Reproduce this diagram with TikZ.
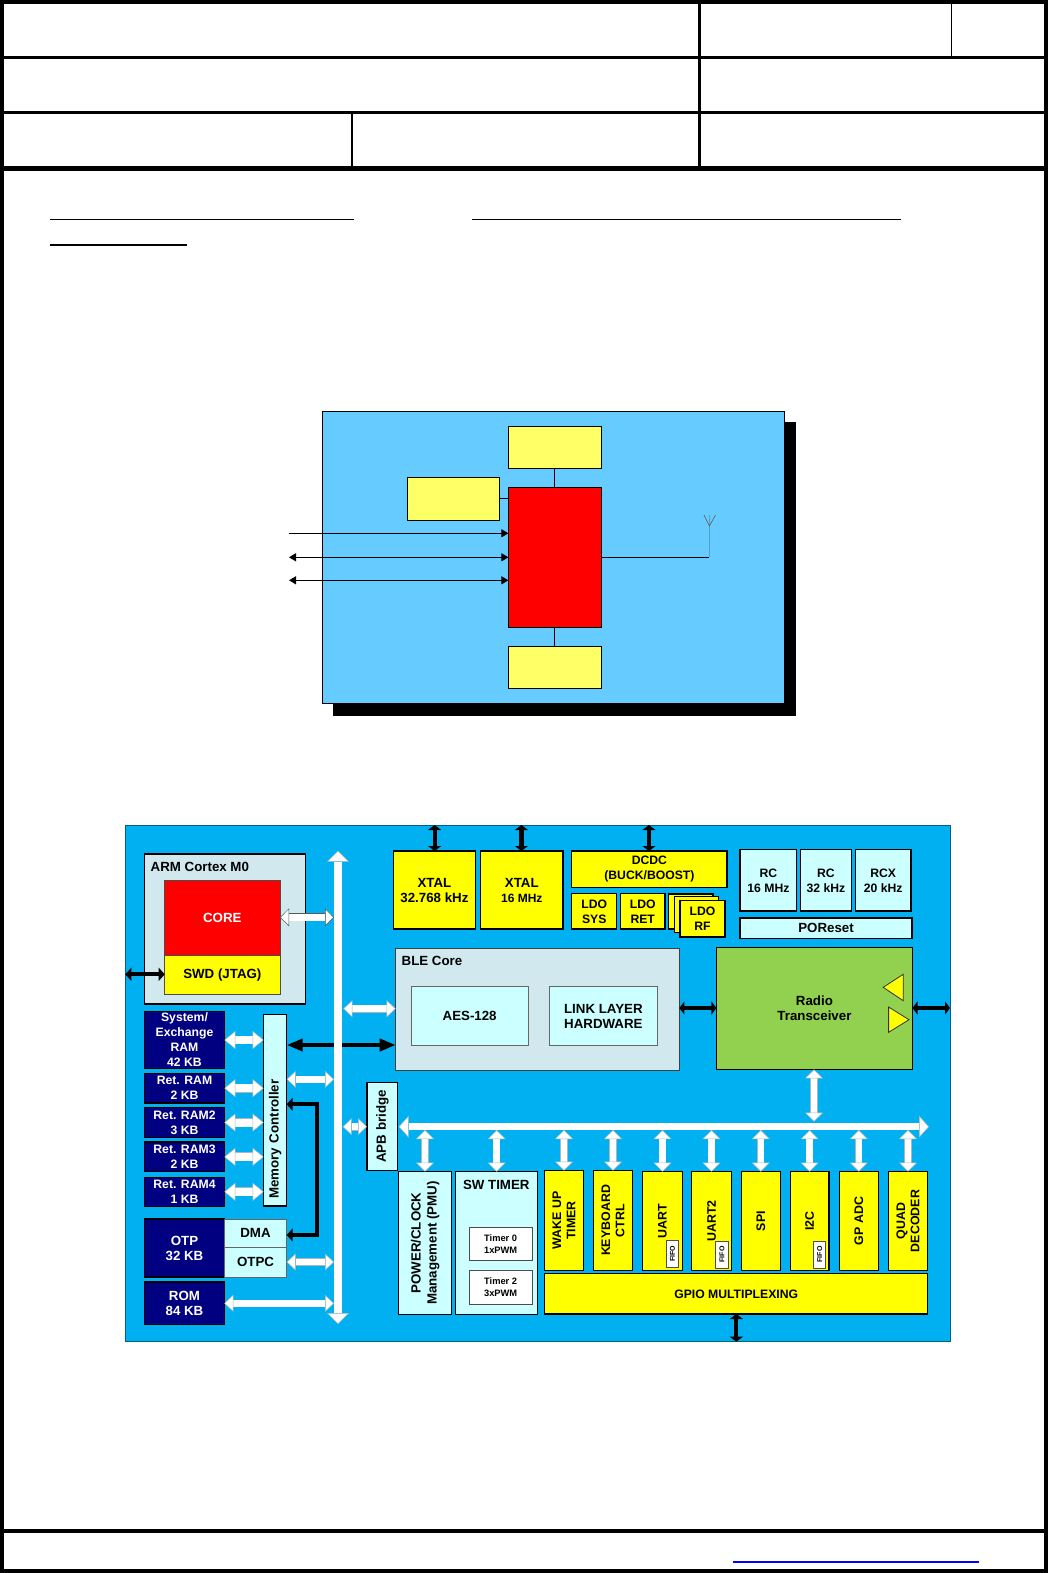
\documentclass[tikz,border=0pt]{standalone}
\usepackage{fontspec}
\setmainfont{Liberation Sans}
\usetikzlibrary{arrows.meta,calc}
\definecolor{bgblue}{HTML}{00B0F0}
\definecolor{topblue}{HTML}{66CCFF}
\definecolor{topyel}{HTML}{FFFF66}
\definecolor{pale}{HTML}{D1E8EE}
\definecolor{cyanbox}{HTML}{CCFFFF}
\definecolor{navybox}{HTML}{000080}
\definecolor{grnbox}{HTML}{92D050}
\definecolor{wedge}{HTML}{A8B8BE}
\definecolor{antblue}{HTML}{4FA3D6}
\definecolor{pureyel}{HTML}{FFFF00}
\definecolor{purered}{HTML}{FF0000}
\definecolor{pureblue}{HTML}{0000FF}
\newcommand{\bx}[7][]{%
  \pgfmathsetmacro{\cxv}{(#3+#5)/2}\pgfmathsetmacro{\cyv}{(#4+#6)/2}%
  \pgfmathsetmacro{\wv}{#5-#3}\pgfmathsetmacro{\hv}{#6-#4}%
  \node[basebox,minimum width=\wv pt,minimum height=\hv pt,#1] (#2) at (\cxv,\cyv) {#7};}
\newcommand{\vbx}[7][]{%
  \pgfmathsetmacro{\cxv}{(#3+#5)/2}\pgfmathsetmacro{\cyv}{(#4+#6)/2}%
  \pgfmathsetmacro{\wv}{#5-#3}\pgfmathsetmacro{\hv}{#6-#4}%
  \node[basebox,rotate=90,minimum width=\hv pt,minimum height=\wv pt,#1] (#2) at (\cxv,\cyv) {#7};}
\tikzset{
  basebox/.style={draw=black,line width=1.3pt,inner sep=0pt,outer sep=0pt,align=center,text=black,font=\bfseries\fontsize{13.3}{15}\selectfont},
  small/.style={font=\bfseries\fontsize{12.2}{15}\selectfont},
  tinyt/.style={font=\bfseries\fontsize{9.3}{11.5}\selectfont},
  fifot/.style={fill=white,draw=black!70,line width=1pt,font=\bfseries\fontsize{7}{8}\selectfont},
  perif/.style={fill=pureyel,font=\bfseries\fontsize{12.4}{14.3}\selectfont},
  yel/.style={fill=pureyel},
  cyb/.style={fill=cyanbox},
  nav/.style={fill=navybox,text=white,draw=black},
  palebox/.style={fill=pale},
  topy/.style={fill=topyel,line width=1pt},
  lbl/.style={inner sep=0pt,outer sep=0pt,font=\bfseries\fontsize{13.3}{15}\selectfont,text=black},
  warr/.style n args={3}{line width=#1pt,draw=white,
     arrows={Triangle[length=#2pt,width=#3pt,fill=white,color=wedge,line width=.5pt]-Triangle[length=#2pt,width=#3pt,fill=white,color=wedge,line width=.5pt]},
     preaction={draw=wedge,-,line width=#1pt+.8pt,shorten >=#2pt,shorten <=#2pt}},
  barr/.style n args={3}{line width=#1pt,draw=black,
     arrows={Triangle[length=#2pt,width=#3pt]-Triangle[length=#2pt,width=#3pt]}},
  ramarr/.style={warr={8}{11}{18}},
  perarr/.style={warr={6.5}{9}{18}},
  blkarr/.style={barr={3.8}{6}{13}},
  thinarr/.style={line width=1.1pt,draw=black,-{Triangle[length=7pt,width=8pt]}},
  thinboth/.style={line width=1.1pt,draw=black,{Triangle[length=7pt,width=8pt]}-{Triangle[length=7pt,width=8pt]}},
  wire/.style={line width=1pt,draw=black}
}
\begin{document}
\begin{tikzpicture}[x=1pt,y=-1pt]
\useasboundingbox (0,0) rectangle (1048,1573);
\fill[white] (0,0) rectangle (1048,1573);
% page frame
\fill[black] (0,0) rectangle (1048,4);
\fill[black] (0,0) rectangle (4,1573);
\fill[black] (1044,0) rectangle (1048,1573);
\fill[black] (0,1569) rectangle (1048,1573);
\fill[black] (0,56) rectangle (1048,59);
\fill[black] (0,111) rectangle (1048,114);
\fill[black] (0,166) rectangle (1048,171);
\fill[black] (0,1529) rectangle (1048,1533);
\fill[black] (698,0) rectangle (701,171);
\fill[black] (350.5,114) rectangle (353,171);
\fill[black] (951,4) rectangle (951.8,56);
\fill[black] (50,218.6) rectangle (354,220);
\fill[black] (472,218.6) rectangle (901,220);
\fill[black] (50,244) rectangle (187,246);
\fill[pureblue] (733,1561) rectangle (979,1563);

% upper diagram
\fill[black] (333,422) rectangle (796,716);
\bx[fill=topblue,line width=1pt]{chip}{322.2}{411}{784}{703.3}{}
\bx[topy]{ytop}{508.4}{426.7}{601.3}{468.3}{}
\bx[topy]{yleft}{407.4}{477.3}{499.6}{520.7}{}
\bx[fill=purered,line width=1pt]{redb}{508.4}{487.3}{601.3}{627.3}{}
\bx[topy]{ybot}{508.4}{646.3}{601.3}{688.3}{}
\coordinate (c1) at (289,533.3);
\coordinate (c2) at (289,557.3);
\coordinate (c3) at (289,580.3);
\coordinate (cl) at (499.6,498.3);
\coordinate (antF) at (709.4,557.3);
\coordinate (antJ) at (709.4,526);
\coordinate (antT) at (709.4,515);
\coordinate (antL) at (704,515);
\coordinate (antR) at (715.5,515);
\draw[wire] (ytop.south) -- (redb.north);
\draw[wire] (redb.south) -- (ybot.north);
\draw[wire] (cl) -- (cl -| redb.west);
\draw[thinarr] (c1) -- (c1 -| redb.west);
\draw[thinboth] (c2) -- (c2 -| redb.west);
\draw[thinboth] (c3) -- (c3 -| redb.west);
\draw[wire] (redb.east) -- (antF);
\draw[line width=1.6pt,draw=antblue] (antF) -- (antT);
\draw[line width=.7pt,draw=black!60] (antL) -- (antJ) -- (antR);

% lower diagram
\bx[fill=bgblue,draw=black!45!bgblue,line width=1pt]{bg}{125.3}{825.3}{950}{1341.7}{}
\bx[palebox]{arm}{144.7}{854}{305.3}{1004}{}
\node[lbl,anchor=west] (armlbl) at (150.7,866.7) {ARM Cortex M0};
\bx[fill=purered,text=white,draw=black!70,line width=1pt]{core}{164.7}{880}{280}{955.7}{CORE}
\bx[yel,draw=black!70,line width=1pt]{swd}{164.7}{955.7}{280}{994}{SWD (JTAG)}
\bx[nav,small]{sysram}{144.7}{1011.3}{224.3}{1068.7}{System/\\Exchange\\RAM\\42 KB}
\bx[nav,small]{ram1}{144.7}{1073.3}{224.3}{1103}{Ret. RAM\\2 KB}
\bx[nav,small]{ram2}{144.7}{1107.7}{224.3}{1137.3}{Ret. RAM2\\3 KB}
\bx[nav,small]{ram3}{144.7}{1142}{224.3}{1171.7}{Ret. RAM3\\2 KB}
\bx[nav,small]{ram4}{144.7}{1177.3}{224.3}{1206.3}{Ret. RAM4\\1 KB}
\vbx[cyb,text width=191pt,align=left]{mc}{263.7}{1014.3}{286.7}{1206}{\hspace*{7pt}Memory Controller}
\bx[nav]{otp}{144.7}{1219}{224.3}{1277}{OTP\\32 KB}
\bx[cyb,draw=black!60,line width=1pt]{dma}{224.3}{1219}{286.7}{1247.3}{DMA}
\bx[cyb,draw=black!60,line width=1pt]{otpc}{224.3}{1247.3}{286.7}{1277}{OTPC}
\bx[nav]{rom}{144.7}{1282}{224.3}{1324.7}{ROM\\84 KB}
\vbx[cyb]{apb}{367}{1082.3}{397.7}{1170.7}{APB bridge}
\vbx[cyb,font=\bfseries\fontsize{13.3}{16}\selectfont]{pmu}{398.7}{1171.7}{451.7}{1314.3}{POWER/CLOCK\\Management (PMU)}
\bx[cyb]{swt}{455.3}{1171.7}{537.3}{1314.3}{}
\node[lbl] (swtlbl) at (496.3,1184.7) {SW TIMER};
\bx[fill=white,draw=black!70,line width=1pt,tinyt]{t0}{469.3}{1227.7}{532}{1260.7}{Timer 0\\1xPWM}
\bx[fill=white,draw=black!70,line width=1pt,tinyt]{t2}{469.3}{1270.7}{532}{1304}{Timer 2\\3xPWM}
\vbx[perif]{wake}{544.7}{1170.7}{583.3}{1270.3}{WAKE UP\\TIMER}
\vbx[perif]{keyb}{593.7}{1170.7}{632.3}{1270.3}{KEYBOARD\\CTRL}
\vbx[perif]{uarta}{642.7}{1171.7}{682.3}{1270.3}{UART}
\vbx[perif]{uartb}{691.7}{1171.7}{731.3}{1270.3}{UART2}
\vbx[perif]{spi}{741.3}{1171.7}{780.3}{1270.3}{SPI}
\vbx[perif]{itc}{790.3}{1171.7}{829}{1270.3}{I2C}
\vbx[perif]{adc}{839.3}{1171.7}{878.3}{1270.3}{GP ADC}
\vbx[perif]{quad}{888.3}{1171.7}{927.7}{1270.3}{QUAD\\DECODER}
\vbx[fifot]{ff1}{666.3}{1240}{678.7}{1267.7}{FIFO}
\vbx[fifot]{ff2}{715.7}{1241}{728.3}{1268}{FIFO}
\vbx[fifot]{ff3}{813.7}{1241}{825.7}{1268}{FIFO}
\bx[yel,small]{gpio}{544.7}{1273.7}{927.7}{1314}{GPIO MULTIPLEXING}
\bx[yel]{xa}{393.2}{851}{475.7}{929}{XTAL\\32.768 kHz}
\bx[yel]{xb}{480.7}{851}{562.9}{929}{XTAL\\{\fontsize{12}{15}\selectfont 16 MHz}}
\bx[yel,small]{dcdc}{571.8}{851}{727}{887.7}{DCDC\\(BUCK/BOOST)}
\bx[yel,small]{lsys}{571.8}{893.7}{616.8}{929}{LDO\\SYS}
\bx[yel,small]{lret}{620.4}{893.7}{665}{929}{LDO\\RET}
\bx[yel,small]{lrfa}{668.2}{894}{713}{929}{}
\bx[yel,small]{lrfb}{674.3}{896.7}{718.6}{932.7}{}
\bx[yel,small]{lrfc}{680}{900.3}{725}{937}{LDO\\RF}
\bx[cyb,small]{rca}{740}{849.7}{796.8}{911}{RC\\16 MHz}
\bx[cyb,small]{rcb}{800.4}{849.7}{851.4}{911}{RC\\32 kHz}
\bx[cyb,small]{rcc}{855.4}{849.7}{911}{911}{RCX\\20 kHz}
\bx[cyb]{por}{740}{918}{912}{938.7}{POReset}
\bx[palebox,draw=black!75,line width=1.3pt]{ble}{395.7}{948.7}{679.3}{1070.3}{}
\node[lbl] (blelbl) at (432,961) {BLE Core};
\bx[cyb,draw=black!60,line width=.8pt]{aes}{411.4}{986.3}{527.9}{1045.7}{AES-128}
\bx[cyb,draw=black!60,line width=.8pt]{ll}{549.3}{986.3}{657.5}{1045.7}{LINK LAYER\\HARDWARE}
\bx[fill=grnbox,line width=1.3pt]{radio}{716.4}{947.3}{912.5}{1069.3}{Radio\\Transceiver}
\coordinate (t1a) at (883.2,987.3);
\coordinate (t1b) at (903.2,974.3);
\coordinate (t1c) at (903.2,1000.7);
\coordinate (t2a) at (909,1019.7);
\coordinate (t2b) at (888.6,1007);
\coordinate (t2c) at (888.6,1032.3);
\filldraw[fill=pureyel,draw=black!80,line width=.8pt] (t1a) -- (t1b) -- (t1c) -- cycle;
\filldraw[fill=pureyel,draw=black!80,line width=.8pt] (t2a) -- (t2b) -- (t2c) -- cycle;

% named connector ends
\coordinate (vbT) at (338,850.7);
\coordinate (vbB) at (338,1324);
\coordinate (vbL) at (334,0);
\coordinate (hbL) at (398.7,1126.7);
\coordinate (hbR) at (929,1126.7);
\coordinate (hbU) at (0,1130);
\coordinate (hbA) at (0,1121.7);
\coordinate (bgTop) at (0,825);
\coordinate (bgBot) at (0,1341.7);
\coordinate (bgL) at (125.3,974.3);
\coordinate (bgR) at (950,1008);
\coordinate (mcb) at (286.7,1079.3);
\coordinate (mcd) at (286.7,1104.3);
\coordinate (mcble) at (286.7,1045);
\coordinate (dmaj) at (317.3,1235);
\coordinate (mcj) at (317.3,1104.3);
\coordinate (bleb) at (343.3,1008.7);
\coordinate (apbb) at (342.7,1126.7);
\coordinate (corea) at (280,917.3);
\coordinate (pmua) at (425,1171.7);
\coordinate (swta) at (496.7,1171.7);
\coordinate (radb) at (814,1069.3);
\coordinate (xat) at (434.6,851);
\coordinate (xbt) at (521.4,851);
\coordinate (dct) at (649,851);
\coordinate (gpb) at (736.3,1314);
\coordinate (otpca) at (286.7,1262);
\coordinate (roma) at (224.3,1303.3);

% black connectors
\draw[barr={3.8}{16}{12}] (mcble) -- (mcble -| ble.west);
\draw[blkarr] (bgL) -- (bgL -| swd.west);
\draw[blkarr] (mcd) -- (mcj) -- (dmaj) -- (dma.east |- dmaj);
\draw[barr={4.2}{5}{13}] (xat) -- (xat |- bgTop);
\draw[barr={4.2}{5}{13}] (xbt) -- (xbt |- bgTop);
\draw[barr={4.2}{5}{13}] (dct) -- (dct |- bgTop);
\draw[barr={4.2}{5}{13}] (gpb) -- (gpb |- bgBot);
\draw[barr={3.8}{5}{13}] (ble.east |- bgR) -- (radio.west |- bgR);
\draw[barr={3.8}{5}{13}] (radio.east |- bgR) -- (bgR);

% white buses
\draw[warr={8}{11}{22}] (vbT) -- (vbB);
\draw[warr={6.5}{10}{22}] (hbL) -- (hbR);

% white connectors
\begin{scope}
\colorlet{wedge}{black!65}
\draw[warr={7}{9}{18}] (corea) -- (corea -| vbL);
\end{scope}
\draw[warr={7}{9}{17}] (bleb) -- (bleb -| ble.west);
\draw[ramarr] (sysram.east) -- (sysram.east -| mc.north);
\draw[ramarr] (ram1.east) -- (ram1.east -| mc.north);
\draw[ramarr] (ram2.east) -- (ram2.east -| mc.north);
\draw[ramarr] (ram3.east) -- (ram3.east -| mc.north);
\draw[ramarr] (ram4.east) -- (ram4.east -| mc.north);
\draw[warr={6.5}{9}{17}] (mcb) -- (mcb -| vbL);
\draw[warr={6.5}{9}{17}] (otpca) -- (otpca -| vbL);
\draw[warr={6.5}{9}{17}] (roma) -- (roma -| vbL);
\draw[warr={7}{9}{17}] (apbb) -- (apbb -| apb.north);
\draw[perarr] (pmua) -- (pmua |- hbU);
\draw[perarr] (swta) -- (swta |- hbU);
\draw[perarr] (wake.east) -- (wake.east |- hbU);
\draw[perarr] (keyb.east) -- (keyb.east |- hbU);
\draw[perarr] (uarta.east) -- (uarta.east |- hbU);
\draw[perarr] (uartb.east) -- (uartb.east |- hbU);
\draw[perarr] (spi.east) -- (spi.east |- hbU);
\draw[perarr] (itc.east) -- (itc.east |- hbU);
\draw[perarr] (adc.east) -- (adc.east |- hbU);
\draw[perarr] (quad.east) -- (quad.east |- hbU);
\draw[perarr] (radb) -- (radb |- hbA);
\end{tikzpicture}
\end{document}
